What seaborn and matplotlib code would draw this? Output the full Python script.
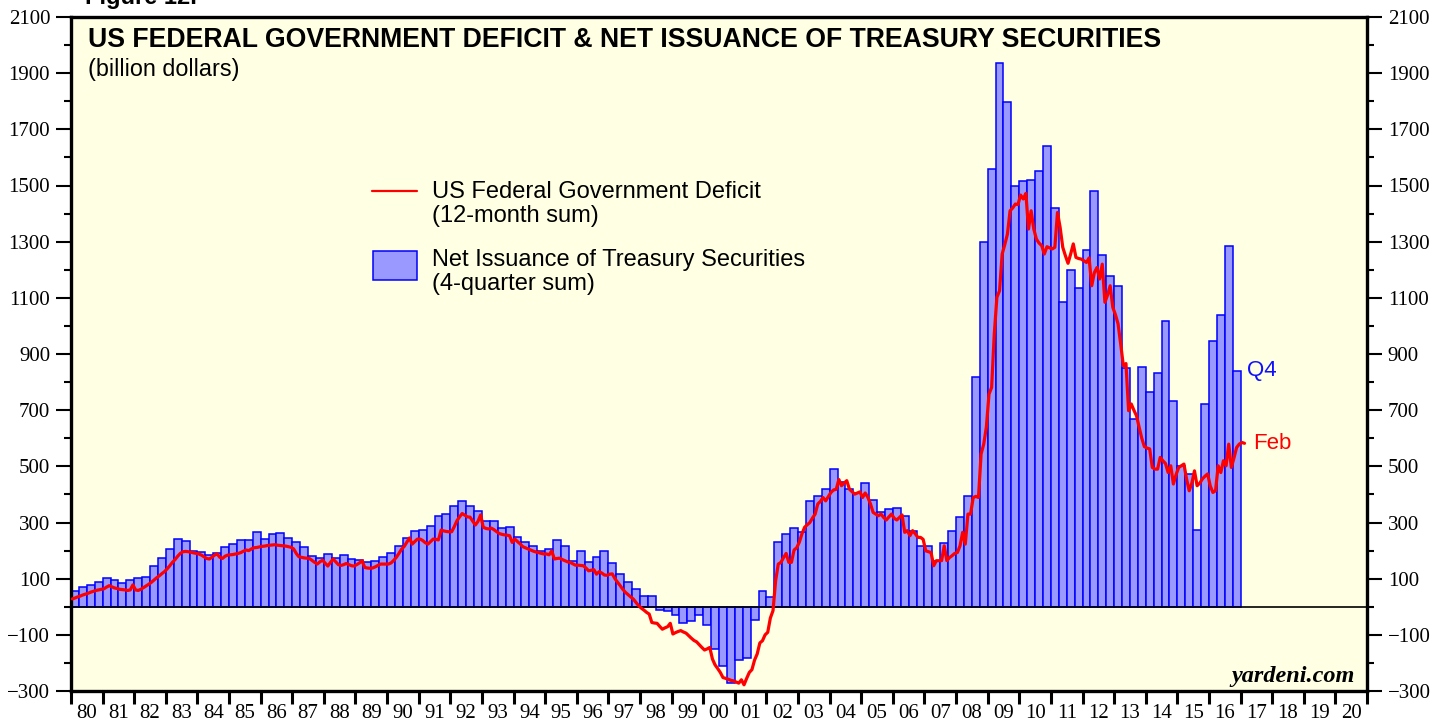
import numpy as np
import pandas as pd
import matplotlib
matplotlib.use("Agg")
import matplotlib.pyplot as plt
import seaborn as sns
from matplotlib.lines import Line2D
from matplotlib.patches import Rectangle
from matplotlib.ticker import MultipleLocator

# ---------------- data ----------------
# Net issuance of Treasury securities, 4-quarter sum, quarterly 1980Q1..2016Q4 (billion $)
issuance_1980s = [55, 72, 76, 87, 102, 94, 85, 95, 101, 107, 146, 173,
                  204, 240, 234, 199, 196, 183, 191, 214, 223, 236, 236, 265,
                  243, 258, 261, 245, 230, 214, 180, 172, 188, 172, 183, 170,
                  167, 160, 162, 178]
issuance_1990s = [192, 217, 245, 271, 274, 286, 323, 329, 358, 375, 360, 342,
                  306, 306, 279, 283, 250, 230, 215, 199, 204, 237, 217, 164,
                  197, 160, 176, 200, 155, 116, 89, 63, 37, 40, -10, -14,
                  -30, -59, -52, -30]
issuance_2000s = [-65, -150, -210, -273, -190, -183, -46, 55, 33, 229, 259, 280,
                  267, 375, 393, 421, 489, 443, 421, 404, 439, 379, 338, 347,
                  351, 322, 271, 217, 217, 164, 227, 270, 321, 393, 819, 1298,
                  1558, 1937, 1798, 1499]
issuance_2010s = [1516, 1519, 1551, 1640, 1420, 1086, 1199, 1134, 1270, 1480, 1253, 1177,
                  1143, 850, 668, 854, 763, 831, 1018, 734, 502, 472, 273, 722,
                  945, 1039, 1283, 840]

# US federal government deficit, 12-month sum, monthly Jan 1980..Feb 2017 (billion $)
deficit_1980s = [28, 31, 35, 38, 42, 45, 48, 52, 55, 58, 60, 62,
                 64, 70, 75, 71, 67, 65, 62, 61, 60, 58, 60, 78,
                 60, 58, 62, 68, 74, 80, 87, 95, 103, 110, 118, 125,
                 135, 146, 158, 168, 180, 190, 196, 197, 196, 194, 192, 190,
                 188, 184, 178, 172, 170, 176, 184, 188, 176, 172, 180, 184,
                 185, 186, 188, 190, 193, 198, 202, 200, 206, 210, 211, 213,
                 215, 216, 218, 219, 220, 221, 219, 218, 217, 216, 214, 212,
                 206, 190, 178, 176, 174, 173, 172, 165, 158, 152, 160, 166,
                 155, 145, 158, 170, 160, 150, 147, 150, 154, 150, 146, 145,
                 150, 156, 164, 140, 138, 137, 138, 142, 147, 152, 152, 152]
deficit_1990s = [152, 156, 165, 176, 190, 205, 215, 230, 245, 223, 232, 241,
                 241, 236, 228, 223, 232, 241, 240, 238, 273, 270, 268, 267,
                 267, 285, 306, 320, 332, 326, 320, 319, 305, 291, 304, 327,
                 283, 279, 277, 280, 275, 268, 261, 258, 256, 255, 253, 229,
                 241, 232, 224, 214, 210, 206, 202, 198, 195, 193, 190, 188,
                 188, 185, 199, 170, 172, 173, 168, 164, 160, 158, 153, 148,
                 148, 147, 146, 138, 128, 130, 132, 116, 125, 120, 113, 112,
                 116, 117, 100, 87, 75, 62, 51, 43, 35, 27, 15, 4,
                 -5, -12, -20, -26, -56, -58, -59, -70, -80, -75, -71, -59,
                 -97, -92, -88, -85, -90, -94, -103, -112, -120, -125, -135, -145]
deficit_2000s = [-154, -150, -145, -186, -207, -220, -234, -252, -255, -258, -262, -264,
                 -268, -272, -260, -278, -255, -234, -224, -190, -168, -129, -121, -100,
                 -91, -40, -14, 93, 152, 158, 175, 190, 158, 158, 202, 210,
                 230, 260, 283, 292, 300, 316, 330, 366, 375, 389, 377, 392,
                 407, 416, 418, 453, 431, 440, 449, 419, 410, 401, 405, 409,
                 389, 405, 390, 366, 336, 330, 324, 330, 318, 309, 320, 330,
                 315, 309, 318, 327, 265, 271, 253, 271, 260, 247, 247, 240,
                 199, 196, 193, 146, 164, 164, 164, 217, 164, 175, 182, 190,
                 193, 217, 265, 223, 330, 330, 389, 393, 389, 544, 579, 640,
                 757, 781, 971, 1102, 1125, 1256, 1290, 1327, 1410, 1420, 1434, 1432]
deficit_2010s = [1466, 1452, 1472, 1345, 1410, 1345, 1309, 1295, 1286, 1256, 1282, 1278,
                 1274, 1280, 1404, 1351, 1280, 1250, 1223, 1256, 1292, 1244, 1240, 1238,
                 1232, 1226, 1242, 1143, 1190, 1208, 1167, 1220, 1084, 1110, 1143, 1066,
                 1040, 1007, 935, 858, 866, 698, 722, 700, 680, 639, 600, 570,
                 565, 562, 496, 490, 490, 532, 520, 510, 478, 502, 437, 470,
                 496, 502, 508, 455, 413, 440, 484, 431, 440, 455, 465, 473,
                 430, 407, 413, 502, 478, 520, 502, 579, 496, 530, 567, 579,
                 585, 582]

year_labels = ["80", "81", "82", "83", "84", "85", "86", "87", "88", "89",
               "90", "91", "92", "93", "94", "95", "96", "97", "98", "99",
               "00", "01", "02", "03", "04", "05", "06", "07", "08", "09",
               "10", "11", "12", "13", "14", "15", "16", "17", "18", "19", "20"]

title = "US FEDERAL GOVERNMENT DEFICIT & NET ISSUANCE OF TREASURY SECURITIES"
subtitle = "(billion dollars)"
legend_line = "US Federal Government Deficit\n(12-month sum)"
legend_bar = "Net Issuance of Treasury Securities\n(4-quarter sum)"

issuance = issuance_1980s + issuance_1990s + issuance_2000s + issuance_2010s
deficit = deficit_1980s + deficit_1990s + deficit_2000s + deficit_2010s

q_x = 1980 + 0.125 + 0.25 * np.arange(len(issuance))
m_x = 1980 + (np.arange(len(deficit)) + 0.5) / 12.0
bars_df = pd.DataFrame({"t": q_x, "v": issuance})
line_df = pd.DataFrame({"t": m_x, "v": deficit})

# ---------------- style ----------------
sns.set_style("ticks")
plt.rcParams['font.family'] = ['Liberation Serif', 'DejaVu Serif']
for k in ['text.color', 'axes.labelcolor', 'xtick.color', 'ytick.color', 'axes.edgecolor']:
    plt.rcParams[k] = 'black'
SANS = ['Liberation Sans', 'DejaVu Sans']

W, H = 1448, 721
fig = plt.figure(figsize=(W / 100, H / 100), dpi=100, facecolor='white')
L, R, T, B = 71, 1367, 17, 691
ax = fig.add_axes([L / W, 1 - B / H, (R - L) / W, (B - T) / H])
ax.set_facecolor('#FFFFE4')

BAR_FILL = '#9999FF'
BAR_EDGE = '#0000FF'
RED = '#FF0000'

sns.barplot(data=bars_df, x="t", y="v", native_scale=True, width=1.0,
            color=BAR_FILL, saturation=1, edgecolor=BAR_EDGE, linewidth=1.1,
            errorbar=None, ax=ax, zorder=2)
ax.axhline(0, color='black', linewidth=1.2, zorder=3)
sns.lineplot(data=line_df, x="t", y="v", color=RED, linewidth=2.3,
             estimator=None, sort=False, ax=ax, zorder=4)

ax.set_xlim(1980, 2021)
ax.set_ylim(-300, 2100)
ax.set_xlabel("")
ax.set_ylabel("")

# y axis ticks both sides
ax.set_yticks(np.arange(-300, 2101, 200))
ax.yaxis.set_minor_locator(MultipleLocator(100))
ax.tick_params(axis='y', which='major', direction='out', length=11, width=1.5,
               left=True, right=True, labelleft=True, labelright=True,
               labelsize=15, pad=4, colors='black')
ax.tick_params(axis='y', which='minor', direction='out', length=5, width=1.5,
               left=True, right=True, colors='black')

# x axis: ticks at year boundaries, labels centred in each year
ax.set_xticks(np.arange(1980, 2022))
ax.set_xticklabels([])
ax.set_xticks(np.arange(1980.5, 2021, 1.0), minor=True)
ax.set_xticklabels(year_labels, minor=True)
ax.tick_params(axis='x', which='major', direction='out', length=9, width=2.2, colors='black')
ax.tick_params(axis='x', which='minor', length=0, pad=9, labelsize=15, colors='black')

for sp in ax.spines.values():
    sp.set_visible(True)
    sp.set_linewidth(2.4)
    sp.set_color('black')

# ---------------- texts ----------------
def fx(px):
    return px / W

def fy(py):
    return 1 - py / H

fig.text(fx(85), fy(4), "Figure 12.", fontsize=17, fontweight='bold',
         family=SANS, ha='left', va='baseline', color='black')
fig.text(fx(88), fy(47), title, fontsize=19.2, fontweight='bold',
         family=SANS, ha='left', va='baseline', color='black')
fig.text(fx(88), fy(76), subtitle, fontsize=16.8, family=SANS,
         ha='left', va='baseline', color='black')

fig.text(fx(432), fy(181), legend_line, fontsize=17, family=SANS,
         ha='left', va='top', linespacing=1.13, color='black')
fig.text(fx(432), fy(249), legend_bar, fontsize=17, family=SANS,
         ha='left', va='top', linespacing=1.13, color='black')

fig.add_artist(Line2D([fx(372), fx(417)], [fy(191), fy(191)], color=RED,
                      linewidth=1.6, transform=fig.transFigure))
fig.add_artist(Rectangle((fx(373), fy(280)), fx(417) - fx(373), fy(251) - fy(280),
                         facecolor=BAR_FILL, edgecolor=BAR_EDGE, linewidth=1.1,
                         transform=fig.transFigure))

ax.text(2017.2, issuance[-1], "Q4", color='#1010FF', fontsize=16, family=SANS,
        ha='left', va='center')
ax.text(2017.4, deficit[-1], "Feb", color=RED, fontsize=16, family=SANS,
        ha='left', va='center')

fig.text(fx(1355), fy(682), "yardeni.com", fontsize=17.5, fontweight='bold',
         fontstyle='italic', ha='right', va='baseline', color='black')

fig.savefig("out.png", dpi=100, facecolor='white')
